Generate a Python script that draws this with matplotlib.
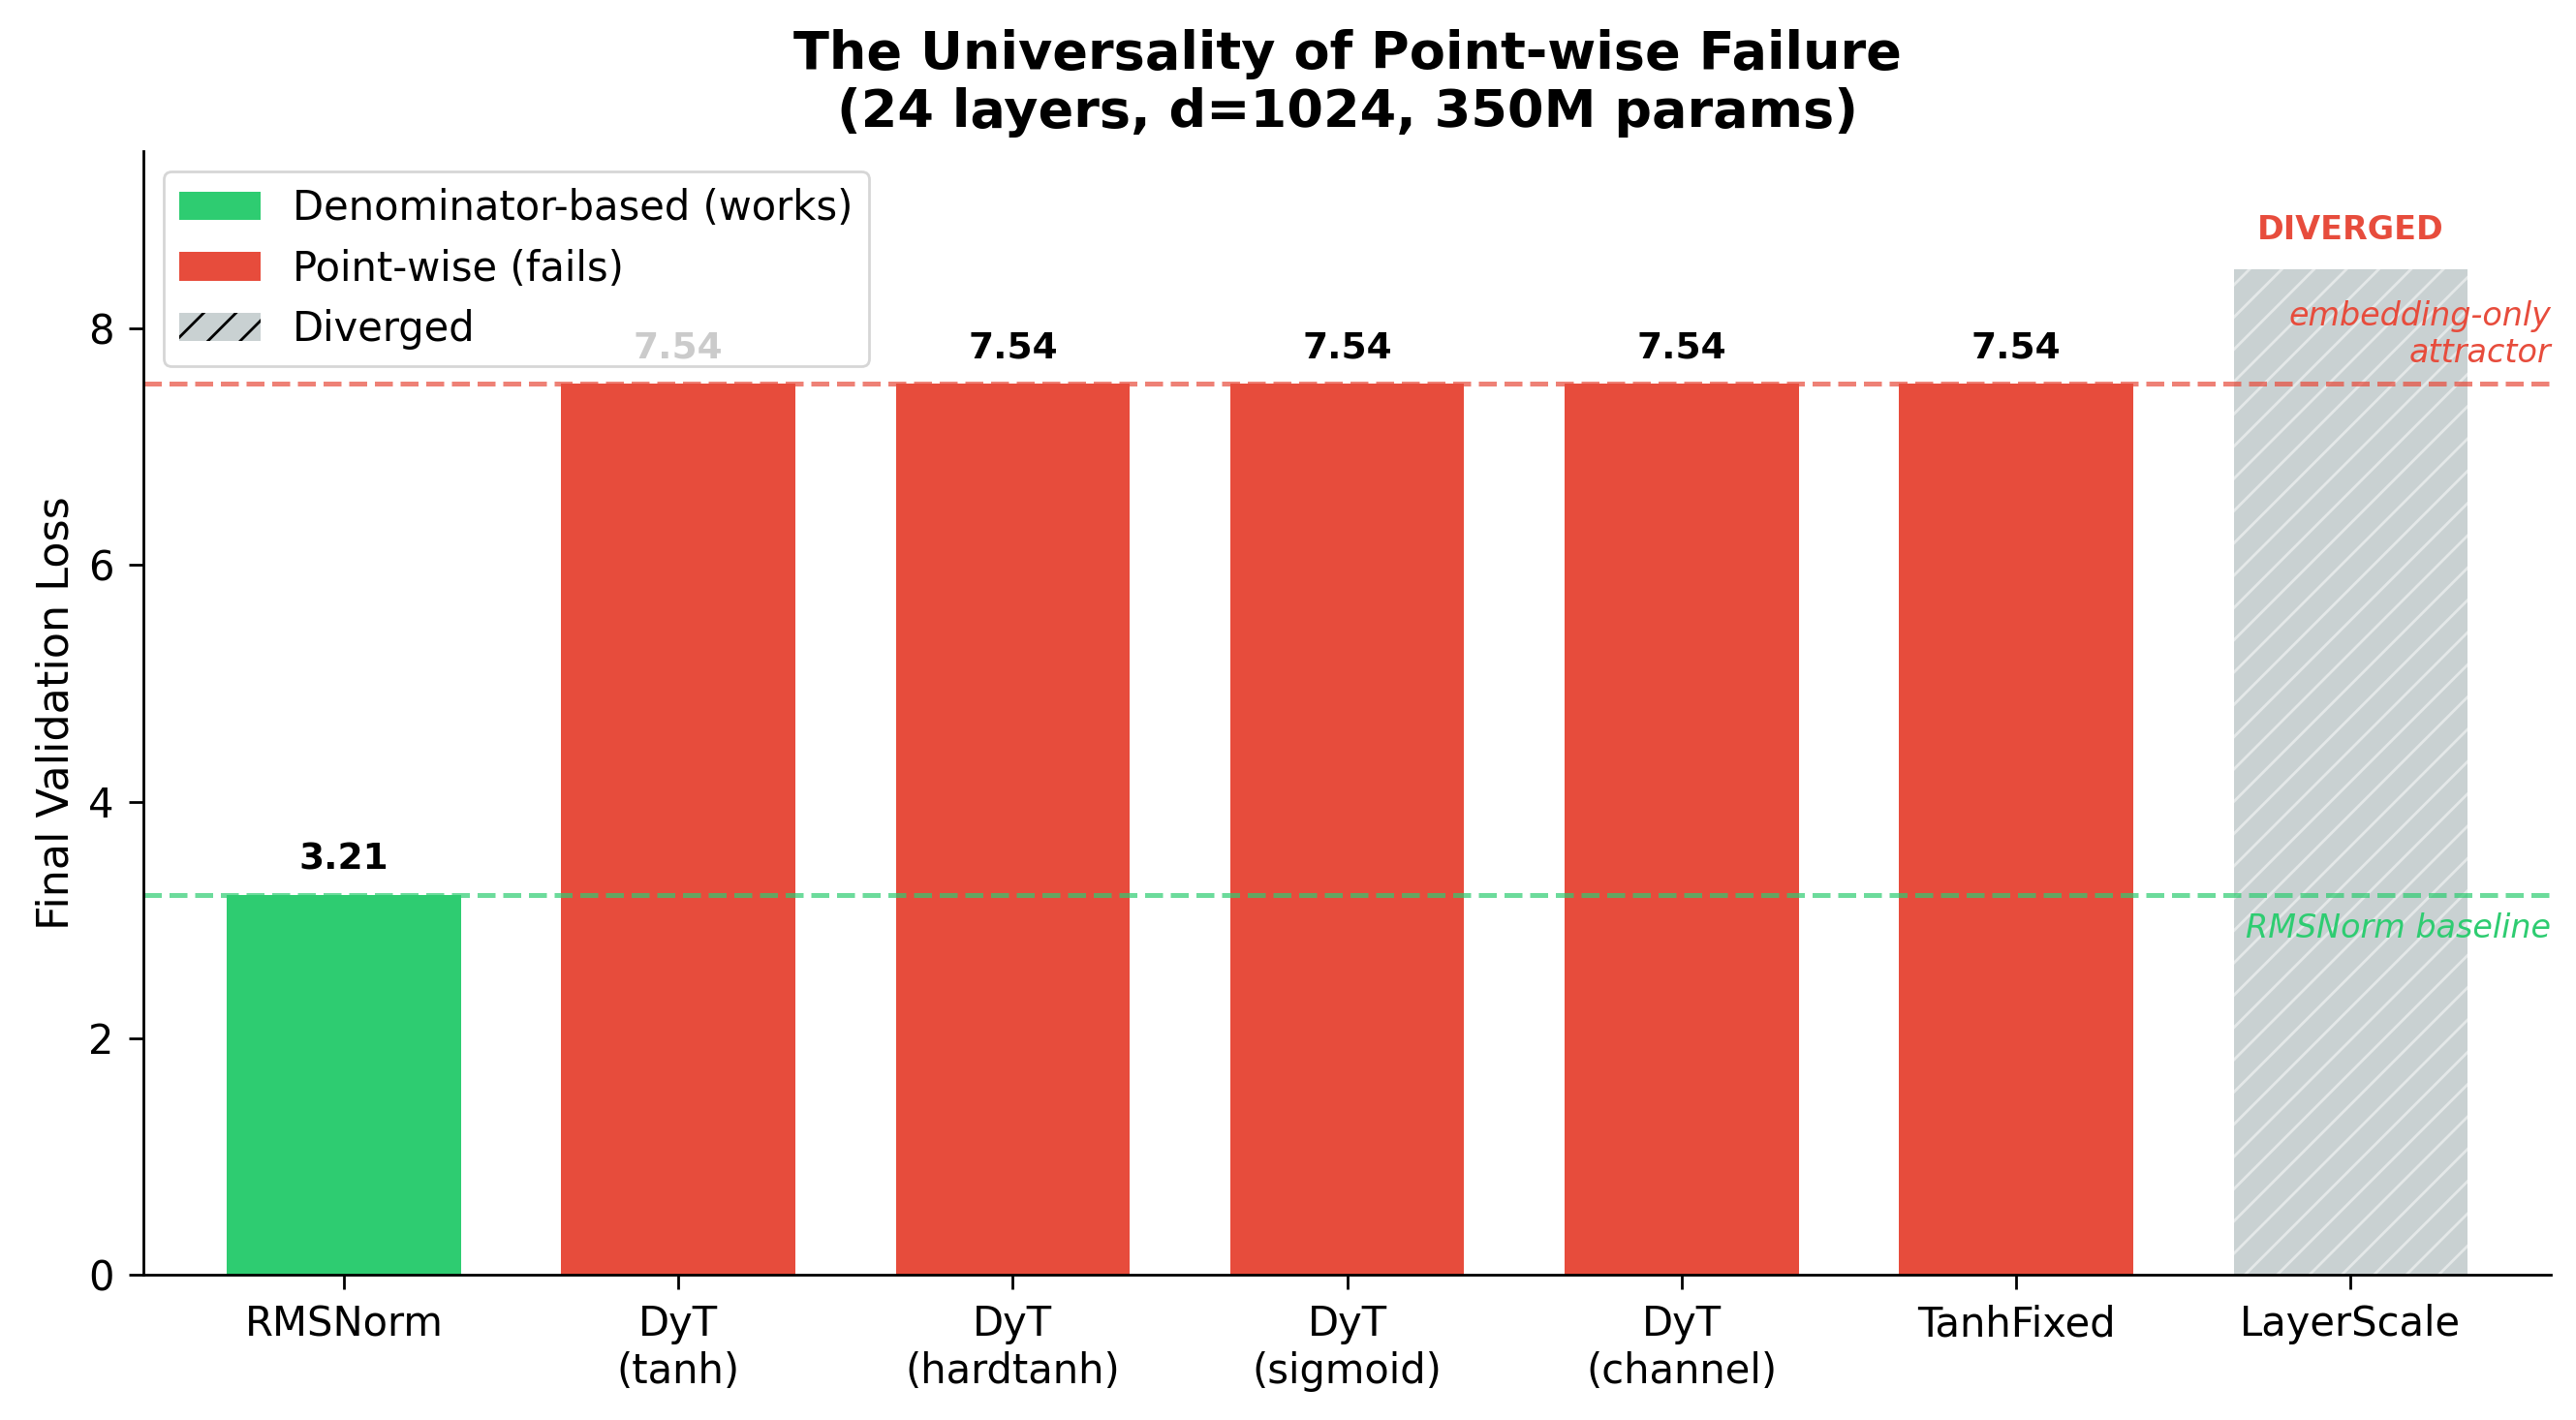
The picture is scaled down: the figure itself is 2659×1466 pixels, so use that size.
import numpy as np
import matplotlib.pyplot as plt
from matplotlib.patches import Patch

methods = ["RMSNorm", "DyT\n(tanh)", "DyT\n(hardtanh)", "DyT\n(sigmoid)",
           "DyT\n(channel)", "TanhFixed", "LayerScale"]
losses = [3.21, 7.54, 7.54, 7.54, 7.54, 7.54, np.nan]
kinds = ["denom", "point", "point", "point", "point", "point", "diverged"]
diverged_height = 8.5
baseline_loss = 3.21
attractor_loss = 7.54

GREEN = "#2ecc71"
RED = "#e74c3c"
GRAY = "#95a5a6"

fig, ax = plt.subplots(figsize=(13.295, 7.33), dpi=200)
x = np.arange(len(methods))

for i, (v, k) in enumerate(zip(losses, kinds)):
    if k == "diverged":
        ax.bar(x[i], diverged_height, width=0.7, color=GRAY, alpha=0.5,
               hatch="//", edgecolor="white", linewidth=0)
        ax.text(x[i], diverged_height + 0.2, "DIVERGED", ha="center", va="bottom",
                fontsize=12, fontweight="bold", color=RED)
    else:
        c = GREEN if k == "denom" else RED
        ax.bar(x[i], v, width=0.7, color=c)
        ax.text(x[i], v + 0.15, f"{v:.2f}", ha="center", va="bottom",
                fontsize=13.5, fontweight="bold")

ax.axhline(attractor_loss, color=RED, linestyle="--", alpha=0.7, linewidth=1.8)
ax.axhline(baseline_loss, color=GREEN, linestyle="--", alpha=0.7, linewidth=1.8)
ax.text(6.6, attractor_loss + 0.12, "embedding-only\nattractor", ha="right", va="bottom",
        fontsize=12, style="italic", color=RED)
ax.text(6.6, baseline_loss - 0.15, "RMSNorm baseline", ha="right", va="top",
        fontsize=12, style="italic", color=GREEN)

ax.set_xticks(x)
ax.set_xticklabels(methods, fontsize=15)
ax.tick_params(axis="both", labelsize=15, length=5.5, width=1.0, pad=5.5)
ax.set_xlim(-0.6, 6.6)
ax.set_ylim(0, 9.5)
ax.set_ylabel("Final Validation Loss", fontsize=16)
ax.set_title("The Universality of Point-wise Failure\n(24 layers, d=1024, 350M params)",
             fontsize=19.5, fontweight="bold", pad=9)
ax.spines["top"].set_visible(False)
ax.spines["right"].set_visible(False)
for s in ("left", "bottom"):
    ax.spines[s].set_linewidth(1.0)

handles = [Patch(facecolor=GREEN, label="Denominator-based (works)"),
           Patch(facecolor=RED, label="Point-wise (fails)"),
           Patch(facecolor=GRAY, alpha=0.5, hatch="//", label="Diverged")]
ax.legend(handles=handles, loc="upper left", fontsize=15)

fig.subplots_adjust(left=0.0556, right=0.9904, top=0.8934, bottom=0.1024)
plt.savefig("out.png", dpi=200)
